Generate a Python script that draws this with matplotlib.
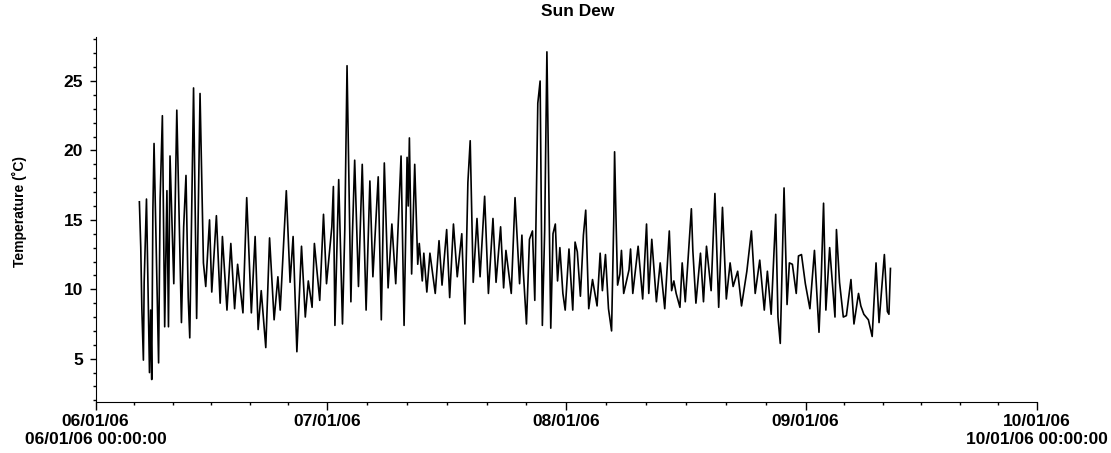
import matplotlib
matplotlib.use('Agg')
import matplotlib.pyplot as plt
import numpy as np

plt.rcParams['font.family'] = ['Liberation Sans', 'DejaVu Sans']
plt.rcParams['font.weight'] = 'bold'

# time of each reading in days since 06/01/06 00:00, and dew temperature (C)
days = [5.68, 5.86, 6.00, 6.20, 6.30, 6.60, 6.99, 7.14, 7.28, 7.43, 7.58, 8.17, 8.37, 8.66,
        8.96, 9.25, 9.45, 9.65, 10.14, 10.53, 11.13, 11.42, 11.72, 12.01, 12.21, 12.70, 13.10,
        13.54, 13.98, 14.28, 14.77, 15.06, 15.66, 16.15, 16.44, 17.03, 17.53, 18.02, 18.41,
        19.10, 19.59, 20.19, 20.68, 21.07, 21.47, 22.06, 22.55, 23.14, 23.63, 23.93, 24.72,
        25.21, 25.60, 26.09, 26.69, 27.18, 27.57, 28.06, 28.36, 29.05, 29.54, 29.93, 30.62,
        30.82, 31.02, 31.51, 32.00, 32.30, 32.59, 33.09, 33.28, 33.58, 34.07, 34.56, 35.06,
        35.55, 35.94, 36.63, 37.03, 37.42, 37.91, 38.40, 38.90, 39.59, 39.98, 40.37, 40.52,
        40.67, 40.96, 41.36, 41.75, 41.95, 42.34, 42.54, 42.93, 43.33, 44.02, 44.51, 44.90,
        45.50, 45.89, 46.38, 46.87, 47.46, 47.86, 48.25, 48.55, 48.94, 49.43, 49.83, 50.42,
        50.91, 51.50, 51.90, 52.49, 52.88, 53.18, 53.87, 54.36, 54.95, 55.25, 55.44, 55.84,
        56.23, 56.62, 56.92, 57.31, 57.61, 57.90, 58.20, 58.49, 58.99, 59.28, 59.58, 59.87,
        60.17, 60.56, 60.86, 61.35, 61.84, 62.14, 62.43, 62.83, 63.22, 63.52, 63.91, 64.40,
        64.99, 65.39, 65.68, 66.08, 66.47, 66.87, 67.16, 67.26, 67.46, 67.65, 67.95, 68.15,
        68.44, 69.13, 69.33, 69.62, 70.31, 70.90, 71.40, 71.69, 72.08, 72.68, 73.17, 73.76,
        74.35, 74.65, 74.94, 75.24, 75.73, 76.02, 76.42, 77.21, 77.40, 77.80, 78.39, 78.78,
        79.17, 79.77, 80.26, 80.75, 81.24, 81.74, 82.23, 82.62, 83.21, 83.71, 84.40, 84.99,
        85.48, 86.07, 86.66, 87.06, 87.55, 88.14, 88.43, 88.73, 89.22, 89.61, 89.91, 90.30,
        90.80, 91.09, 91.48, 91.98, 92.57, 93.16, 93.75, 94.05, 94.34, 94.64, 95.13, 95.82,
        96.01, 96.41, 96.90, 97.30, 97.89, 98.28, 98.87, 99.17, 99.56, 100.15, 100.64, 101.14,
        101.53, 102.22, 102.61, 102.81, 103.01]
temp = [16.3, 13.0, 8.6, 4.9, 10.5, 16.5, 4.0, 8.5, 3.5, 15.7, 20.5, 4.7, 16.5, 22.5,
        7.3, 17.1, 7.3, 19.6, 10.4, 22.9, 7.6, 14.5, 18.2, 9.4, 6.5, 24.5, 7.9,
        24.1, 11.9, 10.2, 15.0, 9.8, 15.3, 9.0, 13.8, 8.5, 13.3, 8.6, 11.8,
        8.3, 16.6, 8.3, 13.8, 7.1, 9.9, 5.8, 13.7, 7.8, 10.9, 8.5, 17.1,
        10.5, 13.8, 5.5, 13.1, 8.0, 10.6, 8.7, 13.3, 9.2, 15.4, 10.4, 14.5,
        17.4, 7.4, 17.9, 7.5, 14.3, 26.1, 9.1, 13.8, 19.3, 10.2, 19.0, 8.5,
        17.8, 10.9, 18.1, 7.8, 19.1, 10.1, 14.7, 10.4, 19.6, 7.4, 19.5, 16.0,
        20.9, 11.1, 19.0, 11.8, 13.3, 10.6, 12.6, 9.8, 12.6, 9.7, 13.5, 10.3,
        14.3, 9.4, 14.7, 10.9, 14.0, 7.5, 17.7, 20.7, 10.5, 15.1, 10.9, 16.7,
        9.7, 15.1, 10.5, 14.5, 10.1, 12.8, 9.7, 16.6, 10.4, 13.9, 11.2, 7.5,
        13.6, 14.2, 9.2, 23.4, 25.0, 7.4, 14.2, 27.1, 7.2, 14.0, 14.7, 10.6,
        13.0, 9.7, 8.5, 12.9, 8.5, 13.4, 12.7, 9.5, 13.9, 15.7, 8.6, 10.7,
        8.8, 12.6, 9.9, 12.5, 8.6, 7.0, 15.2, 19.9, 14.7, 10.3, 11.1, 12.8,
        9.7, 11.4, 12.9, 9.7, 13.1, 9.3, 14.7, 9.7, 13.6, 9.1, 11.9, 8.6,
        14.2, 9.9, 10.6, 9.7, 8.7, 11.9, 9.1, 15.8, 12.8, 9.0, 12.6, 9.1,
        13.1, 9.9, 16.9, 8.7, 15.9, 9.3, 11.9, 10.2, 11.3, 8.8, 11.3, 14.2,
        9.7, 12.1, 8.5, 11.3, 8.2, 15.4, 8.0, 6.1, 17.3, 8.9, 11.9, 11.8,
        9.7, 12.4, 12.5, 10.4, 8.6, 12.8, 6.9, 11.0, 16.2, 8.5, 13.0, 8.0,
        14.3, 10.5, 8.0, 8.1, 10.7, 7.5, 9.7, 8.8, 8.2, 7.8, 6.6, 11.9,
        7.6, 12.5, 8.4, 8.2, 11.5]

month_starts = ['2006-06-01', '2006-07-01', '2006-08-01', '2006-09-01', '2006-10-01']
month_labels = ['06/01/06\n06/01/06 00:00:00', '07/01/06', '08/01/06', '09/01/06',
                '10/01/06\n10/01/06 00:00:00']
y_ticks = [5, 10, 15, 20, 25]

start = np.datetime64('2006-06-01T00:00')
times = start + (np.array(days) * 86400).astype('timedelta64[s]')
major = np.array(month_starts, dtype='datetime64[s]')

# minor ticks: each month split in six
minor = []
for a, b in zip(major[:-1], major[1:]):
    step = (b - a) / 6
    minor += [a + step * k for k in range(1, 6)]

fig = plt.figure(figsize=(11.11, 4.53), dpi=100)
ax = fig.add_axes([0.086, 0.1132, 0.8474, 0.806])

ax.plot(times, temp, color='black', linewidth=1.2)

ax.set_xlim(major[0], major[-1])
ax.set_ylim(1.9, 28.2)
ax.set_xticks(major)
ax.set_xticklabels(month_labels)
ax.set_xticks(minor, minor=True)
ax.set_yticks(y_ticks)
ax.set_yticks(np.arange(2, 29, 1), minor=True)

ax.tick_params(axis='x', which='major', length=5.5, width=1, labelsize=12.5, pad=3.5)
ax.tick_params(axis='x', which='minor', length=2.5, width=1)
ax.tick_params(axis='y', which='major', length=4, width=1, labelsize=12.5, pad=5)
ax.tick_params(axis='y', which='minor', length=2.5, width=1)
for lab in ax.get_xticklabels() + ax.get_yticklabels():
    lab.set_fontweight('bold')

ax.spines['top'].set_visible(False)
ax.spines['right'].set_visible(False)

ax.set_ylabel('Temperature (˚C)', fontsize=10, fontweight='bold')
ax.yaxis.set_label_coords(-0.073, 0.52)
ax.set_title('Sun Dew', fontsize=12.5, fontweight='bold', pad=15, x=0.512)

plt.savefig('out.png', dpi=100)
